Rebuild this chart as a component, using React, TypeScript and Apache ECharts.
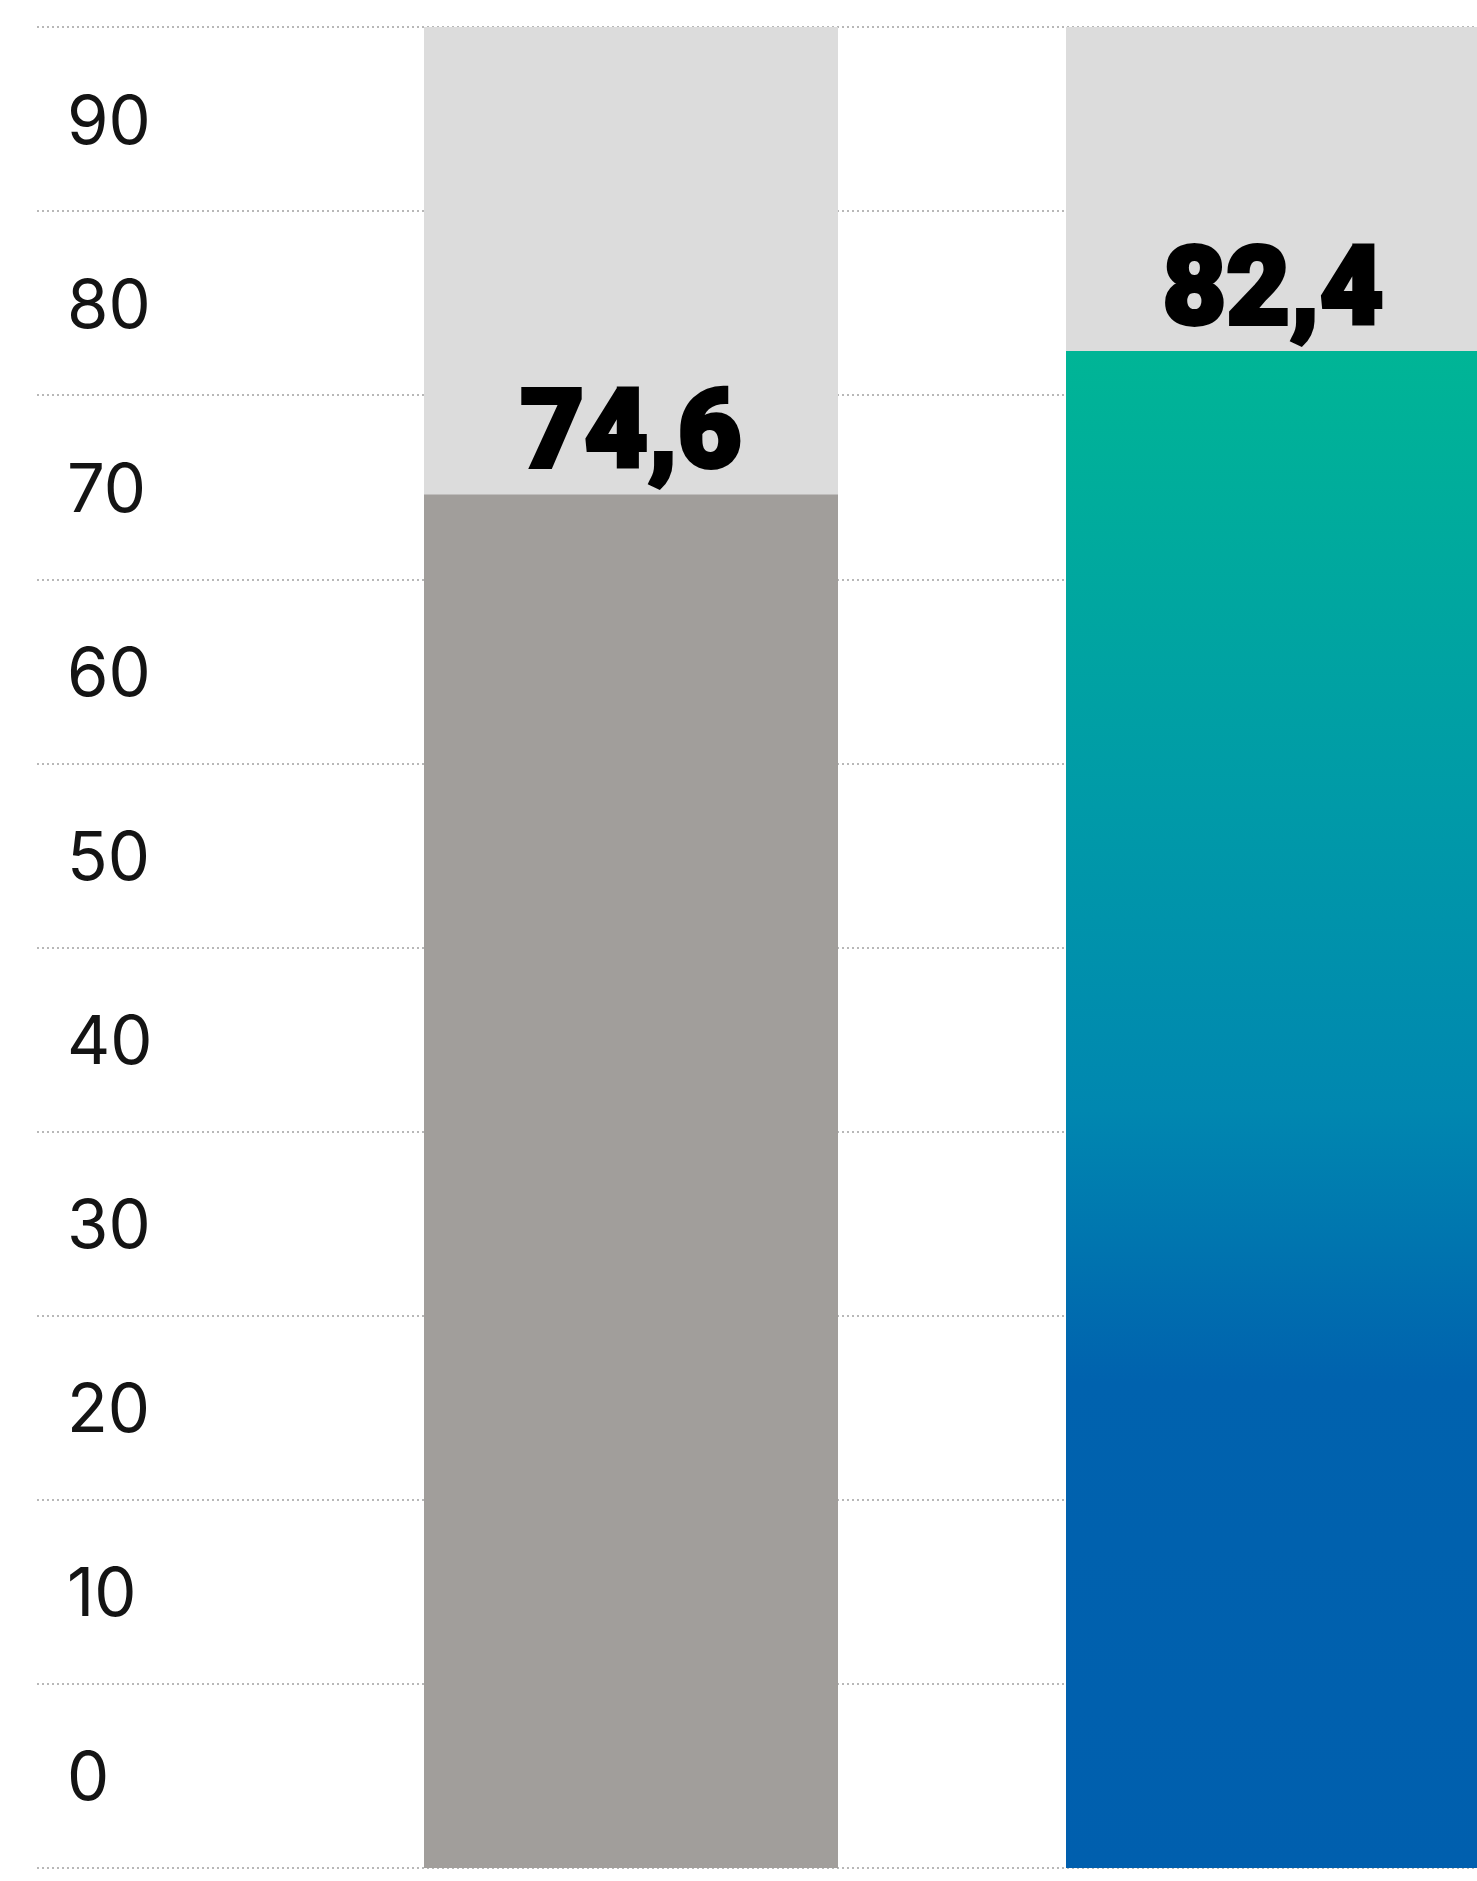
import React, { useEffect, useRef } from "react";
import * as echarts from "echarts";

const categories = ["A", "B"];
const values = [74.6, 82.4];
const tickLabels = ["0", "10", "20", "30", "40", "50", "60", "70", "80", "90"];

export default function App() {
  const ref = useRef<HTMLDivElement>(null);
  useEffect(() => {
    if (!ref.current) return;
    const chart = echarts.init(ref.current, undefined, { renderer: "svg" });
    const gradient = new echarts.graphic.LinearGradient(0, 0, 0, 1, [
      { offset: 0, color: "#00b596" },
      { offset: 0.3, color: "#009aa8" },
      { offset: 0.5, color: "#0087b0" },
      { offset: 0.68, color: "#0062ae" },
      { offset: 1, color: "#005fae" },
    ]);
    const colors = ["#a19e9b", gradient];
    const top = 27;
    const height = 1841;
    chart.setOption({
      animation: false,
      grid: [
        { left: 37, top, width: 1563, height, containLabel: false },
        { left: 310, top, width: 1284, height, containLabel: false },
      ],
      xAxis: [
        { type: "value", gridIndex: 0, show: false, min: 0, max: 1 },
        {
          type: "category",
          gridIndex: 1,
          data: categories,
          show: false,
        },
      ],
      yAxis: [
        {
          type: "category",
          gridIndex: 0,
          data: tickLabels,
          boundaryGap: true,
          axisLine: { show: false },
          axisTick: { show: false },
          axisLabel: {
            inside: true,
            margin: 30,
            interval: 0,
            fontFamily: "Inter",
            fontSize: 67,
            color: "#141414",
          },
          splitLine: {
            show: true,
            interval: 0,
            lineStyle: { color: "#b8b8b8", width: 2, type: [2, 3] },
          },
        },
        {
          type: "value",
          gridIndex: 1,
          min: 0,
          max: 100,
          interval: 10,
          show: false,
          splitLine: { show: false },
        },
      ],
      series: [
        {
          type: "bar",
          xAxisIndex: 1,
          yAxisIndex: 1,
          barWidth: 414,
          showBackground: true,
          backgroundStyle: { color: "#dcdcdc" },
          data: values.map((v, i) => ({ value: v, itemStyle: { color: colors[i] } })),
          label: {
            show: true,
            position: "top",
            distance: 10,
            formatter: (p: any) => Number(p.value).toFixed(1).replace(".", ","),
            fontFamily: "Roboto",
            fontWeight: 900,
            fontSize: 110,
            color: "#000000",
            textBorderColor: "#000000",
            textBorderWidth: 4,
          },
        },
      ],
    });
    return () => chart.dispose();
  }, []);
  return (
    <div
      style={{
        position: "absolute",
        left: 0,
        top: 0,
        width: 1477,
        height: 1881,
        overflow: "hidden",
        background: "#ffffff",
      }}
    >
      <div ref={ref} style={{ width: 1600, height: 1881 }} />
    </div>
  );
}
